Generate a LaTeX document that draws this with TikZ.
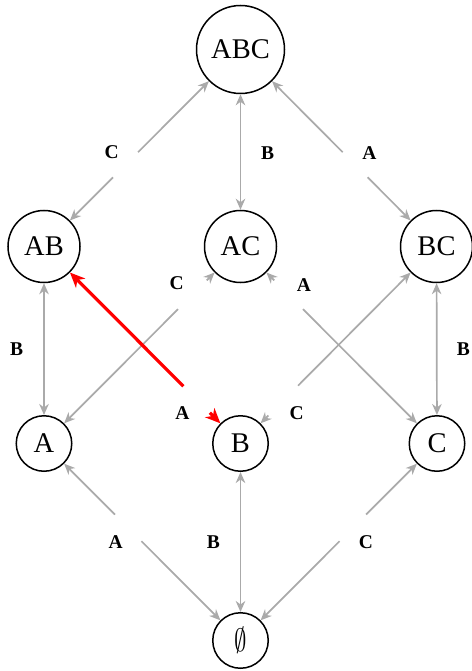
\documentclass[tikz,border=0pt]{standalone}
\usepackage{fontspec}
\setmainfont{Liberation Serif}
\usetikzlibrary{arrows.meta}
\definecolor{edgegray}{RGB}{170,170,170}
\definecolor{hotred}{RGB}{255,0,0}

\begin{document}
\begin{tikzpicture}[x=1pt,y=-1pt,
  state/.style={circle, draw=black, line width=1.5pt, inner sep=0pt,
    font=\fontsize{28.5}{30}\selectfont},
  big/.style={state, minimum size=88pt},
  mid/.style={state, minimum size=72pt},
  small/.style={state, minimum size=55.5pt},
  edge/.style={draw=edgegray, line width=1.7pt},
  tip/.style={-{Stealth[length=11pt,width=9.5pt,inset=3.5pt]}},
  both/.style={{Stealth[length=11pt,width=9.5pt,inset=3.5pt]}-{Stealth[length=11pt,width=9.5pt,inset=3.5pt]}},
  hotedge/.style={draw=hotred, line width=3.2pt},
  hottip/.style={-{Stealth[length=15pt,width=13pt,inset=4.5pt]}},
  lab/.style={font=\fontsize{19.5}{20}\selectfont\bfseries, inner sep=0pt}
]
\useasboundingbox (0,0) rectangle (471,671);

% lattice of subsets
\node[big]   (ABC) at (240.5,49.5)  {ABC};
\node[mid]   (AB)  at (44,246.5)    {AB};
\node[mid]   (AC)  at (240.5,246.5) {AC};
\node[mid]   (BC)  at (436.5,246.5) {BC};
\node[small] (A)   at (44,443.5)    {A};
\node[small] (B)   at (240.5,443.5) {B};
\node[small] (C)   at (437,443.5)   {C};
\node[small] (E)   at (240.5,640.5) {\scalebox{1}[1.3]{$\emptyset$}};

% vertical connectors
\draw[edge,both] (ABC) -- (AC);
\draw[edge,both] (AB) -- (A);
\draw[edge,both] (BC) -- (C);
\draw[edge,both] (E) -- (B);

% diagonal connectors, broken where the label sits
\path (ABC) -- coordinate[pos=0.51] (t1a) coordinate[pos=0.69] (t1b) (AB);
\draw[edge,tip] (t1a) -- (ABC);
\draw[edge,tip] (t1b) -- (AB);
\path (ABC) -- coordinate[pos=0.51] (t2a) coordinate[pos=0.69] (t2b) (BC);
\draw[edge,tip] (t2a) -- (ABC);
\draw[edge,tip] (t2b) -- (BC);

\path (E) -- coordinate[pos=0.505] (b1a) coordinate[pos=0.675] (b1b) (A);
\draw[edge,tip] (b1a) -- (E);
\draw[edge,tip] (b1b) -- (A);
\path (E) -- coordinate[pos=0.505] (b2a) coordinate[pos=0.675] (b2b) (C);
\draw[edge,tip] (b2a) -- (E);
\draw[edge,tip] (b2b) -- (C);

\path (A) -- coordinate[pos=0.757] (m1a) coordinate[pos=0.948] (m1b) (AC);
\draw[edge,tip] (m1a) -- (A);
\draw[edge,tip] (m1b) -- (AC);
\path (C) -- coordinate[pos=0.757] (m2a) coordinate[pos=0.948] (m2b) (AC);
\draw[edge,tip] (m2a) -- (C);
\draw[edge,tip] (m2b) -- (AC);
\path (B) -- coordinate[pos=0.052] (m3a) coordinate[pos=0.25] (m3b) (BC);
\draw[edge,tip] (m3a) -- (B);
\draw[edge,tip] (m3b) -- (BC);

% highlighted connector
\path (B) -- coordinate[pos=0.07] (h1) coordinate[pos=0.246] (h2) (AB);
\draw[hotedge,hottip] (h1) -- (B);
\draw[hotedge,hottip] (h2) -- (AB);

% labels
\node[lab] (l1)  at (111.7,151.7) {C};
\node[lab] (l2)  at (267.7,153.3) {B};
\node[lab] (l3)  at (369.3,153.3) {A};
\node[lab] (l4)  at (16.7,349.3)  {B};
\node[lab] (l5)  at (463.3,349.3) {B};
\node[lab] (l6)  at (176.7,283.3) {C};
\node[lab] (l7)  at (304,285)     {A};
\node[lab] (l8)  at (182.3,413.3) {A};
\node[lab] (l9)  at (296.7,412.7) {C};
\node[lab] (l10) at (115.7,542.3) {A};
\node[lab] (l11) at (213.3,542.3) {B};
\node[lab] (l12) at (366,542.3)   {C};
\end{tikzpicture}
\end{document}
